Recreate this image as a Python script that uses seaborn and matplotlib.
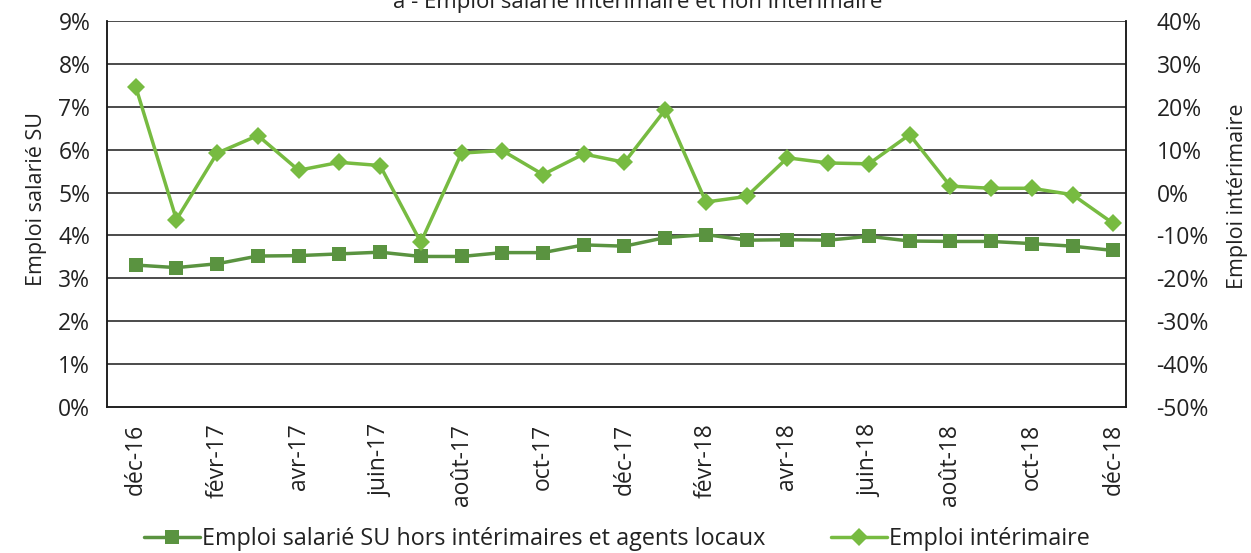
import matplotlib
matplotlib.use("Agg")
import matplotlib.pyplot as plt
import seaborn as sns
import pandas as pd

# data
mois = ["déc-16", "janv-17", "févr-17", "mars-17", "avr-17", "mai-17", "juin-17",
        "juil-17", "août-17", "sept-17", "oct-17", "nov-17", "déc-17", "janv-18",
        "févr-18", "mars-18", "avr-18", "mai-18", "juin-18", "juil-18", "août-18",
        "sept-18", "oct-18", "nov-18", "déc-18"]
emploi_su = [3.31, 3.25, 3.34, 3.52, 3.53, 3.57, 3.61, 3.51, 3.51, 3.60, 3.60, 3.78,
             3.75, 3.95, 4.02, 3.89, 3.90, 3.89, 3.98, 3.87, 3.86, 3.86, 3.81, 3.75, 3.65]
emploi_interim = [24.7, -6.3, 9.2, 13.3, 5.2, 7.05, 6.3, -11.6, 9.2, 9.8, 4.2, 9.0,
                  7.05, 19.3, -2.2, -0.9, 8.1, 6.9, 6.7, 13.5, 1.5, 1.0, 1.0, -0.5, -7.2]
left_ticks = list(range(0, 10))
right_ticks = list(range(-50, 41, 10))

df = pd.DataFrame({"pos": range(len(mois)), "mois": mois,
                   "su": emploi_su, "interim": emploi_interim})

sns.set_style("white")
plt.rcParams["font.family"] = ["Open Sans", "DejaVu Sans"]
text_col = "#222222"
dark_green = "#5a9340"
light_green = "#77bb41"

fig = plt.figure(figsize=(12.51, 5.53), dpi=100)
ax = fig.add_axes([0.0855, 0.264, 0.8145, 0.698])
ax2 = ax.twinx()

sns.lineplot(data=df, x="pos", y="su", ax=ax, color=dark_green, linewidth=2.5,
             marker="s", markersize=10, markeredgewidth=0,
             label="Emploi salarié SU hors intérimaires et agents locaux", legend=False)
sns.lineplot(data=df, x="pos", y="interim", ax=ax2, color=light_green, linewidth=2.5,
             marker="D", markersize=9, markeredgewidth=0,
             label="Emploi intérimaire", legend=False)

ax.set_xlim(-0.705, 24.31)
ax.set_ylim(0, 9)
ax2.set_ylim(-50, 40)
ax.set_yticks(left_ticks)
ax.set_yticklabels([f"{t}%" for t in left_ticks])
ax2.set_yticks(right_ticks)
ax2.set_yticklabels([f"{t}%" for t in right_ticks])
ax.set_xticks(df["pos"][::2])
ax.set_xticklabels(df["mois"][::2], rotation=90)

for y in left_ticks[1:]:
    ax.axhline(y, color="#1a1a1a", linewidth=1.1, zorder=0)

for a in (ax, ax2):
    a.set_xlabel("")
    a.set_ylabel("")
    a.tick_params(length=0, labelsize=16.5, colors=text_col)
    for s in a.spines.values():
        s.set_color("#1a1a1a")
        s.set_linewidth(1.1)
    a.spines["top"].set_visible(False)
ax.tick_params(axis="y", pad=12)
ax2.tick_params(axis="y", pad=22)
ax.tick_params(axis="x", pad=12)

fig.text(0.029, 0.64, "Emploi salarié SU", rotation=90, ha="center", va="center",
         fontsize=15.5, color=text_col)
fig.text(0.989, 0.645, "Emploi intérimaire", rotation=90, ha="center", va="center",
         fontsize=15.5, color=text_col)
fig.text(0.51, 0.995, "a - Emploi salarié intérimaire et non intérimaire",
         ha="center", va="center", fontsize=16, color=text_col)

h1, l1 = ax.get_legend_handles_labels()
h2, l2 = ax2.get_legend_handles_labels()
fig.legend(h1 + h2, l1 + l2, loc="center", bbox_to_anchor=(0.493, 0.025), ncol=2,
           frameon=False, fontsize=16.8, handlelength=2.4, handletextpad=0.1,
           columnspacing=2.8, labelcolor=text_col)

fig.savefig("out.png", dpi=100)
